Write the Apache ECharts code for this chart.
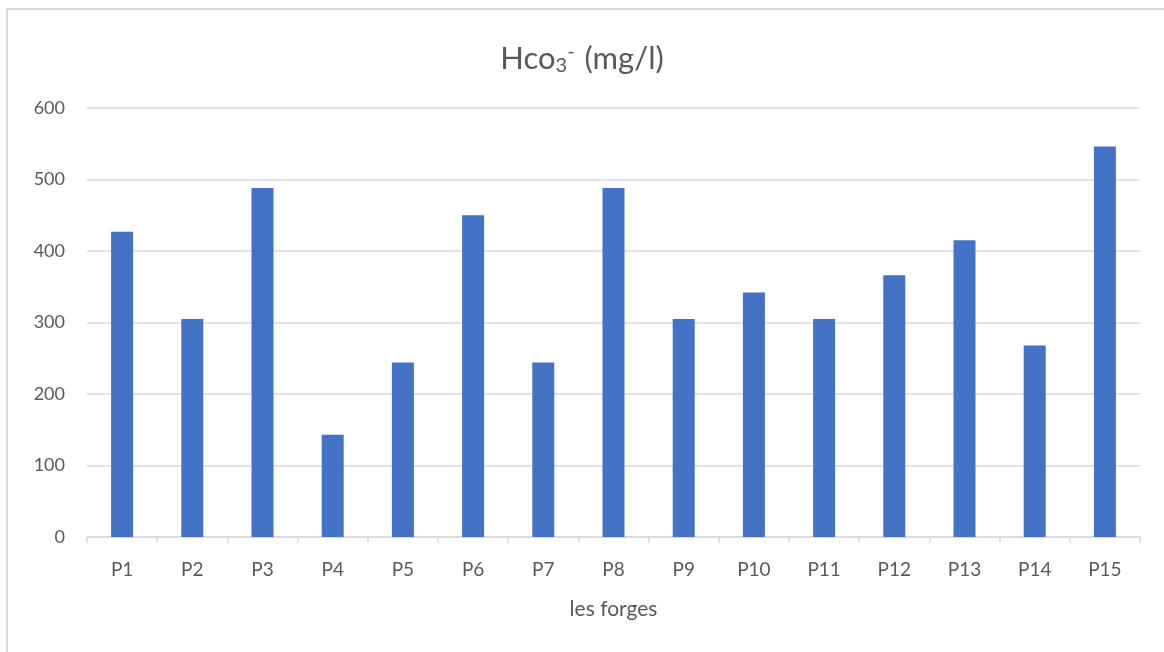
<!DOCTYPE html>
<html>
<head>
<meta charset="utf-8">
<style>
  html, body { margin: 0; padding: 0; background: #ffffff; }
  #chart { width: 1164px; height: 652px; }
</style>
<script src="https://cdn.jsdelivr.net/npm/echarts@6/dist/echarts.min.js"></script>
</head>
<body>
<div id="chart"></div>
<script>
// Bicarbonate concentration per sampling point
const categories = ['P1', 'P2', 'P3', 'P4', 'P5', 'P6', 'P7', 'P8', 'P9', 'P10', 'P11', 'P12', 'P13', 'P14', 'P15'];
const hco3Values = [427, 305, 488, 143, 244, 450, 244, 488, 305, 342, 305, 366, 415, 268, 546];
const yTicks = [0, 100, 200, 300, 400, 500, 600];

const textColor = '#595959';
const fontFamily = 'Lato, "Open Sans", sans-serif';

const chart = echarts.init(document.getElementById('chart'), null, { renderer: 'canvas' });

chart.setOption({
  animation: false,
  backgroundColor: '#ffffff',
  title: {
    text: '{a|Hco}{s|3}{p|-}{a| (mg/l)}',
    left: 'center',
    top: 34,
    textStyle: {
      fontWeight: 'normal',
      rich: {
        a: { fontSize: 31, fontWeight: 'normal', color: textColor, fontFamily: fontFamily, lineHeight: 40 },
        s: { fontSize: 20, fontWeight: 'normal', color: textColor, fontFamily: fontFamily, padding: [14, 0, 0, 0] },
        p: { fontSize: 20, fontWeight: 'normal', color: textColor, fontFamily: fontFamily, padding: [0, 2, 14, 0] }
      }
    }
  },
  graphic: [{
    type: 'rect',
    shape: { x: 7, y: 9, width: 1300, height: 800 },
    style: { fill: 'none', stroke: '#d9d9d9', lineWidth: 2 },
    silent: true,
    z: -1
  }],
  grid: { left: 87, right: 24, top: 108, bottom: 115, containLabel: false },
  xAxis: {
    type: 'category',
    data: categories,
    name: 'les forges',
    nameLocation: 'middle',
    nameGap: 62,
    nameTextStyle: { color: textColor, fontSize: 21, fontFamily: fontFamily },
    axisLine: { show: true, lineStyle: { color: '#d9d9d9', width: 1.5 } },
    axisTick: { show: true, length: 6, lineStyle: { color: '#d9d9d9', width: 1.5 } },
    axisLabel: { color: textColor, fontSize: 19, fontFamily: fontFamily, margin: 23 }
  },
  yAxis: {
    type: 'value',
    min: yTicks[0],
    max: yTicks[yTicks.length - 1],
    interval: yTicks[1] - yTicks[0],
    axisLine: { show: false },
    axisTick: { show: false },
    axisLabel: { color: textColor, fontSize: 18, fontFamily: fontFamily, margin: 22 },
    splitLine: { lineStyle: { color: '#d9d9d9', width: 1.5 } }
  },
  series: [{
    type: 'bar',
    data: hco3Values,
    barWidth: 22,
    itemStyle: { color: '#4472C4' }
  }]
});
</script>
</body>
</html>
